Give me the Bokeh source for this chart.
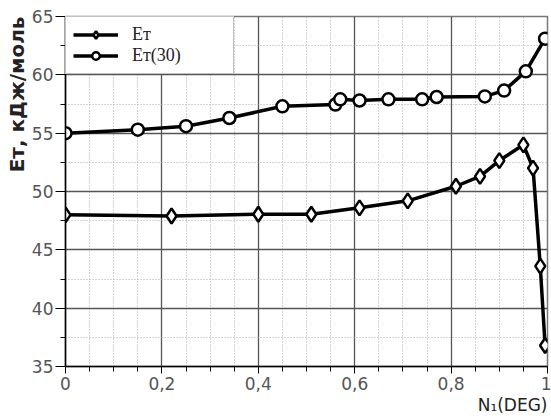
import numpy as np
from bokeh.plotting import figure
from bokeh.models import FixedTicker, Legend, Title
from bokeh.embed import file_html
from bokeh.resources import INLINE

# Data
x_et = [0.0, 0.22, 0.40, 0.51, 0.61, 0.71, 0.81, 0.86, 0.90, 0.95, 0.97, 0.985, 0.995]
y_et = [48.0, 47.9, 48.05, 48.05, 48.6, 49.2, 50.45, 51.3, 52.65, 54.0, 52.0, 43.6, 36.8]

x_et30 = [0.0, 0.15, 0.25, 0.34, 0.45, 0.56, 0.57, 0.61, 0.67, 0.74, 0.77, 0.87, 0.91, 0.955, 0.995]
y_et30 = [55.0, 55.3, 55.6, 56.3, 57.3, 57.45, 57.9, 57.8, 57.9, 57.9, 58.1, 58.15, 58.65, 60.3, 63.1]

x_ticks = [0, 0.2, 0.4, 0.6, 0.8, 1.0]
x_tick_labels = ["0", "0,2", "0,4", "0,6", "0,8", "1"]
x_minor = [0.05, 0.1, 0.15, 0.25, 0.3, 0.35, 0.45, 0.5, 0.55, 0.65, 0.7, 0.75, 0.85, 0.9, 0.95]
y_ticks = [35, 40, 45, 50, 55, 60, 65]
y_minor = [37.5, 42.5, 47.5, 52.5, 57.5, 62.5]

series_names = ["Eт", "Eт(30)"]
y_title = "Eт, кДж/моль"
x_title = "N\u2081(DEG)"

p = figure(width=551, height=419, output_backend="svg", toolbar_location=None,
           x_range=(0, 1), y_range=(35, 65),
           min_border_left=65, min_border_right=4, min_border_top=16, min_border_bottom=53)
p.background_fill_color = "white"
p.border_fill_color = "white"
p.outline_line_color = "#777777"
p.outline_line_width = 1.5

p.xaxis.ticker = FixedTicker(ticks=x_ticks, minor_ticks=x_minor)
p.yaxis.ticker = FixedTicker(ticks=y_ticks, minor_ticks=y_minor)
p.xaxis.major_label_overrides = {t: l for t, l in zip(x_ticks, x_tick_labels)}
p.yaxis.major_label_overrides = {t: str(t) for t in y_ticks}

for ax in (p.xaxis, p.yaxis):
    ax.axis_line_color = "black"
    ax.axis_line_width = 1.5
    ax.major_tick_line_color = "black"
    ax.minor_tick_line_color = "black"
    ax.major_tick_in = 0
    ax.minor_tick_in = 0
    ax.major_label_text_font = "DejaVu Sans"
    ax.major_label_text_font_size = "17px"
    ax.major_label_text_color = "#555555"
p.xaxis.major_tick_out = 7
p.xaxis.minor_tick_out = 5
p.yaxis.major_tick_out = 10
p.yaxis.minor_tick_out = 5
p.xaxis.major_label_standoff = 3
p.yaxis.major_label_standoff = 2

for g in (p.xgrid, p.ygrid):
    g.grid_line_color = "#555555"
    g.grid_line_width = 1.3
    g.minor_grid_line_color = "#aaaaaa"
    g.minor_grid_line_dash = "1 2"
    g.minor_grid_line_width = 1

lw = 3.5
r1 = p.line(x_et, y_et, line_color="black", line_width=lw)
r1m = p.scatter(x_et, y_et, marker="diamond", size=15,
                fill_color="white", line_color="black", line_width=2.5)
r2 = p.line(x_et30, y_et30, line_color="black", line_width=lw)
r2m = p.scatter(x_et30, y_et30, marker="circle", size=12,
                fill_color="white", line_color="black", line_width=2.5)

legend = Legend(items=[(series_names[0], [r1, r1m]), (series_names[1], [r2, r2m])],
                location="top_left", margin=0, padding=7, spacing=0,
                glyph_width=45, glyph_height=19, label_height=19, label_width=94,
                label_standoff=14, label_text_font="Liberation Serif",
                label_text_font_size="18px", label_text_color="#222222",
                border_line_color="#888888", border_line_width=1.5,
                background_fill_color="white", background_fill_alpha=1.0)
p.add_layout(legend)

yt = Title(text=y_title, align="right", text_font="DejaVu Sans", text_font_style="bold",
           text_font_size="20px", text_color="#222222", standoff=0, offset=0)
p.add_layout(yt, "left")
xt = Title(text=x_title, align="right", text_font="DejaVu Sans", text_font_style="normal",
           text_font_size="17px", text_color="#222222", standoff=0, offset=0)
p.add_layout(xt, "below")

open("out.html", "w").write(file_html(p, INLINE))
